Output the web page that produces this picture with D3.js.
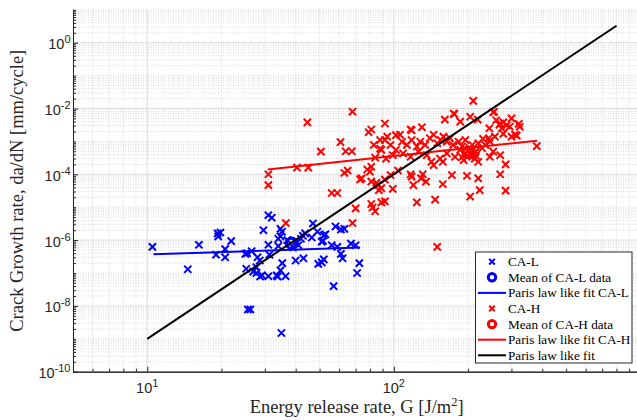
<!DOCTYPE html>
<html>
<head>
<meta charset="utf-8">
<script src="https://cdn.jsdelivr.net/npm/d3@7"></script>
<style>
  body { margin: 0; background: #fff; }
  svg { display: block; }
</style>
</head>
<body>
<div id="chart"></div>
<script>
// CA-L specimens: energy release rate G [J/m^2] and crack growth rate [mm/cycle]
const caLG = [10.5, 16.2, 14.6, 19.3, 19.8, 19.4, 21.9, 20.7, 19, 20.7, 25, 25.2, 25.6, 26.2,
  31, 32, 29.6, 34.7, 35.2, 34, 34.7, 31, 34, 43.7, 46.5, 51, 52, 49, 58, 61, 63, 56, 59, 67, 70,
  61, 62, 72.5, 71, 57, 28, 28.6, 27.7, 26.9, 27.7, 28.7, 29.2, 31, 33.5, 33.8, 34.7, 35.3, 36.4,
  40, 43, 49.4, 51, 52, 35, 31.3, 25.4, 26.5, 42.8, 47, 37, 40, 41, 39, 42, 51.6, 52.8];
const caLRate = [6.2e-7, 7.2e-7, 1.3e-7, 1.6e-6, 1.7e-6, 1.3e-6, 9.3e-7, 5.3e-7, 3.6e-7, 3e-7, 3.8e-7, 1.35e-7, 7.8e-9, 7.8e-9,
  5.7e-6, 4.8e-6, 2e-6, 2.2e-6, 1.8e-6, 1.1e-6, 1.3e-6, 7.2e-7, 6.6e-7, 1.6e-6, 1.2e-6, 9e-7, 1.4e-6, 1.8e-6, 2.6e-6, 2.1e-6, 2.2e-6, 7e-7, 6.2e-7, 7.8e-7, 7e-7,
  3.8e-7, 2.8e-7, 2e-7, 1e-7, 4e-8, 3e-7, 2.4e-7, 1.5e-7, 1.1e-7, 1e-7, 7.8e-8, 8.5e-8, 8e-8, 8.5e-8, 7.8e-8, 1.2e-7, 2e-7, 8e-8,
  2.4e-7, 2.8e-7, 1.9e-7, 2.1e-7, 2.6e-7, 1.5e-9, 3.6e-7, 4e-7, 4.6e-7, 1.35e-6, 3.2e-6, 1e-6, 9e-7, 7e-7, 6e-7, 1.1e-6, 9.5e-7, 1.5e-6];

// CA-H specimens
const caHG = [31, 31, 40.5, 45, 44.6, 68, 50.6, 60.8, 63.8, 67.6, 63, 65, 79, 81, 92, 94, 83, 88, 89, 84,
  93, 102, 78, 81, 80, 74, 97, 104, 210, 175, 255, 204, 161, 186, 117, 130, 270, 287, 274, 295,
  324, 278, 310, 380, 230, 245, 257, 253, 270, 245, 284, 270, 145, 158, 172, 198, 220, 117, 131, 203,
  213, 73, 56, 59, 81, 86, 92, 99, 89, 70, 81, 82, 89, 84, 68, 36.5, 118, 129, 135, 120,
  158, 223, 284, 204, 147, 124, 150, 106, 118, 176, 219, 253, 268, 278, 321, 315, 300, 85, 87, 92,
  108, 113, 118, 124, 128, 134, 140, 145, 150, 155, 159, 164, 169, 174, 183, 189, 195, 201, 208, 215,
  220, 228, 235, 243, 109, 117, 126, 136, 142, 154, 164, 177, 192, 208, 220, 92, 97, 102, 99, 88,
  186, 195, 203, 189, 215, 244, 260, 300];
const caHRate = [1e-4, 4.7e-5, 1.6e-4, 1.6e-4, 3.8e-3, 8e-3, 4.9e-4, 9.5e-4, 5e-4, 5e-4, 1.1e-4, 1.3e-4, 1.9e-3, 2.3e-3, 3.5e-3, 1.4e-3, 7.8e-4, 6e-4, 5.5e-4, 3.2e-4,
  3e-4, 5.5e-4, 1.4e-4, 1.7e-4, 1.2e-4, 7.5e-5, 9.5e-5, 1.3e-4, 1.7e-2, 7e-3, 8e-3, 5.6e-3, 4.6e-3, 4e-3, 2.3e-3, 2.7e-3, 3.5e-3, 3.1e-3, 2.5e-3, 2.8e-3,
  2.8e-3, 1.7e-3, 1.6e-3, 7.2e-4, 1.2e-3, 1e-3, 1.4e-3, 4.9e-4, 3.8e-4, 3.4e-4, 2e-4, 1e-4, 1.9e-4, 2.4e-4, 9.5e-5, 9e-5, 7.5e-5, 1e-4, 1e-4, 4.3e-4,
  3e-4, 7e-5, 2.7e-5, 2.7e-5, 6e-5, 4.7e-5, 6.9e-5, 3.6e-5, 3.8e-5, 9.2e-6, 1.25e-5, 9.8e-6, 1.4e-5, 7.5e-6, 3.3e-6, 3.3e-6, 8.5e-5, 7.5e-5, 6e-5, 4.7e-5,
  5e-5, 3.3e-5, 3.2e-5, 2.1e-5, 1.7e-5, 1.4e-5, 6.2e-7, 1.6e-3, 2.2e-3, 6.8e-3, 4.6e-3, 7.7e-3, 3.2e-3, 3.8e-3, 3.4e-3, 1.5e-3, 1.4e-3, 5.5e-5, 3.3e-5, 1.5e-5,
  9.8e-4, 7.8e-4, 1.1e-3, 7e-4, 9.8e-4, 7.8e-4, 1.25e-3, 1.6e-3, 8.8e-4, 1.1e-3, 1.4e-3, 9.8e-4, 1.25e-3, 7.8e-4, 9.8e-4, 7e-4, 1.1e-3, 5.5e-4, 7.8e-4, 5e-4,
  8.8e-4, 6.2e-4, 7.8e-4, 1.25e-3, 4.3e-4, 3.4e-4, 4.9e-4, 3.8e-4, 2.4e-4, 3e-4, 4.3e-4, 3.4e-4, 2.7e-4, 3.4e-4, 2.4e-4, 1.1e-3, 7.8e-4, 1.55e-3, 3.8e-4, 1.1e-3,
  5.5e-4, 4.3e-4, 6.3e-4, 3.3e-4, 3.7e-4, 2.5e-3, 4.4e-3, 5e-3];

// means and fitted lines (end points)
const meanLG = [38.5], meanLRate = [8e-7];
const meanHG = [200], meanHRate = [4.7e-4];
const fitLG = [10.6, 73], fitLRate = [3.7e-7, 6e-7];
const fitHG = [30.8, 381], fitHRate = [1.4e-4, 1.05e-3];
const fitAllG = [10, 800], fitAllRate = [1e-9, 3.28];

const xMajorExp = [1, 2];
const yMajorExp = [-10, -8, -6, -4, -2, 0];

const legendItems = [
  { label: "CA-L", kind: "x", color: "#0000ff" },
  { label: "Mean of CA-L data", kind: "o", color: "#0000ff" },
  { label: "Paris law like fit CA-L", kind: "line", color: "#0000ff" },
  { label: "CA-H", kind: "x", color: "#ff0000" },
  { label: "Mean of CA-H data", kind: "o", color: "#ff0000" },
  { label: "Paris law like fit CA-H", kind: "line", color: "#ff0000" },
  { label: "Paris law like fit", kind: "line", color: "#000000" }
];

const W = 637, H = 420;
const pLeft = 73, pRight = 640.4, pTop = 9.8, pBottom = 371.7;

const svg = d3.select("#chart").append("svg")
  .attr("width", W)
  .attr("height", H);

const x = d3.scaleLog().domain([5, 1000]).range([pLeft, pRight]);
const y = d3.scaleLog().domain([1e-10, 10]).range([pBottom, pTop]);

// grid
const xMinor = [], yMinor = [];
for (let n = 0; n <= 2; n++) for (let k = 1; k <= 9; k++) {
  const v = k * Math.pow(10, n);
  if (v >= 5 && !(k === 1 && xMajorExp.includes(n))) xMinor.push(v);
}
xMinor.push(1000);
for (let n = -10; n <= 0; n++) for (let k = 1; k <= 9; k++) {
  const v = k * Math.pow(10, n);
  if (!(k === 1 && yMajorExp.includes(n))) yMinor.push(v);
}
yMinor.push(10);
const xMajor = xMajorExp.map(e => Math.pow(10, e));
const yMajor = yMajorExp.map(e => Math.pow(10, e));

const grid = svg.append("g");
grid.selectAll(".xm").data(xMinor).enter().append("line")
  .attr("x1", d => x(d)).attr("x2", d => x(d)).attr("y1", pTop).attr("y2", pBottom)
  .attr("stroke", "#d0d0d0").attr("stroke-width", 0.8).attr("stroke-dasharray", "1,1.5");
grid.selectAll(".ym").data(yMinor).enter().append("line")
  .attr("x1", pLeft).attr("x2", pRight).attr("y1", d => y(d)).attr("y2", d => y(d))
  .attr("stroke", "#d0d0d0").attr("stroke-width", 0.8).attr("stroke-dasharray", "1,1.5");
grid.selectAll(".xM").data(xMajor).enter().append("line")
  .attr("x1", d => x(d)).attr("x2", d => x(d)).attr("y1", pTop).attr("y2", pBottom)
  .attr("stroke", "#dcdcdc").attr("stroke-width", 1);
grid.selectAll(".yM").data(yMajor).enter().append("line")
  .attr("x1", pLeft).attr("x2", pRight).attr("y1", d => y(d)).attr("y2", d => y(d))
  .attr("stroke", "#dcdcdc").attr("stroke-width", 1);

// axes
const axisColor = "#262626";
function styleAxis(g) {
  g.selectAll("path, line").attr("stroke", axisColor);
  g.selectAll("text").remove();
}
svg.append("g").attr("transform", `translate(0,${pBottom})`)
  .call(d3.axisBottom(x).tickValues(xMinor).tickSize(-3).tickSizeOuter(0).tickFormat(""))
  .call(styleAxis);
svg.append("g").attr("transform", `translate(0,${pBottom})`)
  .call(d3.axisBottom(x).tickValues(xMajor).tickSize(-5).tickSizeOuter(0).tickFormat(""))
  .call(styleAxis);
svg.append("g").attr("transform", `translate(${pLeft},0)`)
  .call(d3.axisLeft(y).tickValues(yMinor).tickSize(-3).tickSizeOuter(0).tickFormat(""))
  .call(styleAxis);
svg.append("g").attr("transform", `translate(${pLeft},0)`)
  .call(d3.axisLeft(y).tickValues(yMajor).tickSize(-5).tickSizeOuter(0).tickFormat(""))
  .call(styleAxis);

// tick labels with superscripts
const tickFont = "'Liberation Sans', Arial, sans-serif";
svg.selectAll(".xtl").data(xMajorExp).enter().append("text")
  .attr("x", d => x(Math.pow(10, d)))
  .attr("y", pBottom + 21.5)
  .attr("text-anchor", "middle")
  .attr("font-family", tickFont).attr("font-size", 14.5).attr("fill", axisColor)
  .each(function(d) {
    const t = d3.select(this);
    t.append("tspan").text("10");
    t.append("tspan").attr("dy", -6).attr("font-size", 11).text(d);
  });
svg.selectAll(".ytl").data(yMajorExp).enter().append("text")
  .attr("x", pLeft - 2.5)
  .attr("y", d => y(Math.pow(10, d)) + 6.5)
  .attr("text-anchor", "end")
  .attr("font-family", tickFont).attr("font-size", 14.5).attr("fill", axisColor)
  .each(function(d) {
    const t = d3.select(this);
    t.append("tspan").text("10");
    t.append("tspan").attr("dy", -6).attr("font-size", 11).text(d < 0 ? "-" + (-d) : d);
  });

// axis titles
const serif = "'Liberation Serif', 'Times New Roman', serif";
const xt = svg.append("text")
  .attr("x", (pLeft + pRight) / 2).attr("y", 413)
  .attr("text-anchor", "middle")
  .attr("font-family", serif).attr("font-size", 18.5).attr("fill", axisColor);
xt.append("tspan").text("Energy release rate, G [J/m");
xt.append("tspan").attr("dy", -7.5).attr("font-size", 12.5).text("2");
xt.append("tspan").attr("dy", 7.5).text("]");

svg.append("text")
  .attr("transform", `translate(22.5,${(pTop + pBottom) / 2}) rotate(-90)`)
  .attr("text-anchor", "middle")
  .attr("font-family", serif).attr("font-size", 18.5).attr("fill", axisColor)
  .text("Crack Growth rate, da/dN [mm/cycle]");

// markers
function crosses(g, xs, ys, color, s) {
  const pts = xs.map((v, i) => [x(v), y(ys[i])]);
  g.selectAll(null).data(pts).enter().append("path")
    .attr("d", d => `M${d[0] - s},${d[1] - s}L${d[0] + s},${d[1] + s}M${d[0] - s},${d[1] + s}L${d[0] + s},${d[1] - s}`)
    .attr("stroke", color).attr("stroke-width", 2).attr("fill", "none");
}
function circles(g, xs, ys, color) {
  g.selectAll(null).data(xs.map((v, i) => [x(v), y(ys[i])])).enter().append("circle")
    .attr("cx", d => d[0]).attr("cy", d => d[1]).attr("r", 5.2)
    .attr("fill", "none").attr("stroke", color).attr("stroke-width", 3.2);
}
const line = d3.line().x(d => x(d[0])).y(d => y(d[1]));
function fit(g, xs, ys, color) {
  g.append("path").datum(xs.map((v, i) => [v, ys[i]]))
    .attr("d", line).attr("stroke", color).attr("stroke-width", 2).attr("fill", "none");
}

const plot = svg.append("g");
crosses(plot, caLG, caLRate, "#0000ff", 3.6);
circles(plot, meanLG, meanLRate, "#0000ff");
fit(plot, fitLG, fitLRate, "#0000ff");
circles(plot, meanHG, meanHRate, "#ff0000");
crosses(plot, caHG, caHRate, "#ff0000", 3.6);
fit(plot, fitHG, fitHRate, "#ff0000");
fit(plot, fitAllG, fitAllRate, "#000000");

// legend
const lg = svg.append("g");
lg.append("rect").attr("x", 475.5).attr("y", 252).attr("width", 156.5).attr("height", 111)
  .attr("fill", "#fff").attr("stroke", axisColor).attr("stroke-width", 1);
legendItems.forEach((it, i) => {
  const cy = 261.7 + i * 15.6;
  if (it.kind === "line") {
    lg.append("line").attr("x1", 478).attr("x2", 506).attr("y1", cy).attr("y2", cy)
      .attr("stroke", it.color).attr("stroke-width", 2);
  } else if (it.kind === "x") {
    const s = 2.8, cx = 492;
    lg.append("path")
      .attr("d", `M${cx - s},${cy - s}L${cx + s},${cy + s}M${cx - s},${cy + s}L${cx + s},${cy - s}`)
      .attr("stroke", it.color).attr("stroke-width", 2);
  } else {
    lg.append("circle").attr("cx", 492).attr("cy", cy).attr("r", 3.7)
      .attr("fill", "none").attr("stroke", it.color).attr("stroke-width", 3);
  }
  lg.append("text").attr("x", 508).attr("y", cy + 4.5)
    .attr("font-family", serif).attr("font-size", 13.2).attr("fill", "#000")
    .text(it.label);
});
</script>
</body>
</html>
